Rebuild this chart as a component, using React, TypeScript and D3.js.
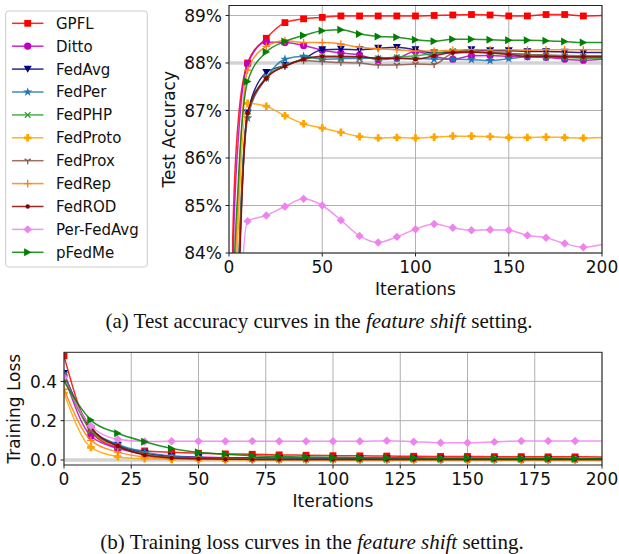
import React from 'react';
import * as d3 from 'd3';

// methods, colours and marker styles (legend order = draw order)
const methods = ['GPFL', 'Ditto', 'FedAvg', 'FedPer', 'FedPHP', 'FedProto', 'FedProx', 'FedRep', 'FedROD', 'Per-FedAvg', 'pFedMe'];
const colors = ['#ff0000', '#bf00bf', '#000080', '#1f77b4', '#2ca02c', '#ffa500', '#8c564b', '#ff7f0e', '#8b0000', '#ee82ee', '#008000'];
const markers = ['s', 'o', 'v', '*', 'x', 'P', '1', '+', '.', 'D', '>'];

// test accuracy (%), iterations 0, 2, 5, 10, 20 ... 200
const accIters = [0, 2, 5, 10, 20, 30, 40, 50, 60, 70, 80, 90, 100, 110, 120, 130, 140, 150, 160, 170, 180, 190, 200];
const accGPFL = [70, 84.3, 86.8, 88.0, 88.52, 88.85, 88.93, 88.96, 88.99, 88.99, 88.99, 88.99, 88.99, 89.0, 89.01, 89.02, 89.01, 88.99, 88.99, 89.02, 89.02, 88.99, 89.0];
const accDitto = [70, 83.6, 86.4, 87.98, 88.44, 88.43, 88.37, 88.27, 88.21, 88.17, 88.07, 88.1, 88.24, 88.14, 88.08, 88.15, 88.16, 88.14, 88.13, 88.12, 88.08, 88.06, 88.08];
const accFedAvg = [70, 79, 83.5, 86.95, 87.8, 87.95, 88.09, 88.28, 88.29, 88.28, 88.31, 88.33, 88.28, 88.21, 88.22, 88.28, 88.26, 88.26, 88.24, 88.24, 88.23, 88.22, 88.22];
const accFedPer = [70, 78.5, 83.2, 86.84, 87.68, 88.08, 88.14, 88.08, 88.09, 88.1, 88.1, 88.1, 88.1, 88.08, 88.08, 88.07, 88.05, 88.09, 88.13, 88.12, 88.12, 88.12, 88.12];
const accFedPHP = [70, 78.8, 83.4, 86.9, 87.7, 87.95, 88.08, 88.12, 88.12, 88.12, 88.1, 88.12, 88.15, 88.2, 88.25, 88.24, 88.22, 88.2, 88.18, 88.15, 88.12, 88.1, 88.1];
const accFedProto = [70, 80, 84.6, 87.15, 87.09, 86.89, 86.72, 86.63, 86.54, 86.45, 86.42, 86.43, 86.42, 86.44, 86.46, 86.46, 86.45, 86.43, 86.43, 86.44, 86.43, 86.42, 86.43];
const accFedProx = [70, 78.5, 83.2, 86.9, 87.68, 87.93, 88.05, 88.03, 88.01, 88.0, 87.96, 87.96, 87.98, 87.97, 88.2, 88.22, 88.22, 88.2, 88.18, 88.17, 88.16, 88.15, 88.15];
const accFedRep = [70, 81.5, 85.2, 87.85, 88.35, 88.47, 88.43, 88.43, 88.4, 88.33, 88.3, 88.28, 88.25, 88.25, 88.27, 88.28, 88.28, 88.28, 88.27, 88.28, 88.28, 88.28, 88.28];
const accFedROD = [70, 77.5, 82.8, 86.95, 87.68, 87.93, 88.08, 88.14, 88.14, 88.13, 88.1, 88.1, 88.08, 88.15, 88.22, 88.23, 88.21, 88.18, 88.14, 88.14, 88.13, 88.13, 88.13];
const accPerFedAvg = [60, 70, 81.5, 84.67, 84.79, 84.98, 85.14, 85.0, 84.69, 84.36, 84.22, 84.34, 84.5, 84.61, 84.53, 84.48, 84.49, 84.48, 84.37, 84.32, 84.2, 84.12, 84.18];
const accPFedMe = [70, 82.5, 85.5, 87.61, 88.23, 88.45, 88.58, 88.68, 88.7, 88.61, 88.56, 88.54, 88.49, 88.46, 88.5, 88.5, 88.49, 88.48, 88.48, 88.47, 88.45, 88.43, 88.43];

// training loss, iterations 0, 10 ... 200
const lossIters = [0, 10, 20, 30, 40, 50, 60, 70, 80, 90, 100, 110, 120, 130, 140, 150, 160, 170, 180, 190, 200];
const lossGPFL = [0.53, 0.144, 0.064, 0.046, 0.039, 0.034, 0.031, 0.029, 0.026, 0.024, 0.022, 0.021, 0.02, 0.019, 0.018, 0.018, 0.017, 0.017, 0.016, 0.016, 0.015];
const lossDitto = [0.43, 0.122, 0.059, 0.03, 0.02, 0.015, 0.012, 0.011, 0.01, 0.009, 0.008, 0.008, 0.007, 0.007, 0.006, 0.006, 0.006, 0.005, 0.005, 0.005, 0.005];
const lossFedAvg = [0.44, 0.16, 0.075, 0.035, 0.018, 0.012, 0.01, 0.009, 0.008, 0.007, 0.006, 0.006, 0.005, 0.005, 0.005, 0.004, 0.004, 0.004, 0.004, 0.004, 0.004];
const lossFedPer = [0.44, 0.16, 0.08, 0.04, 0.02, 0.012, 0.009, 0.007, 0.006, 0.005, 0.005, 0.004, 0.004, 0.004, 0.003, 0.003, 0.003, 0.003, 0.003, 0.003, 0.003];
const lossFedPHP = [0.42, 0.15, 0.07, 0.03, 0.012, 0.007, 0.005, 0.004, 0.003, 0.003, 0.003, 0.002, 0.002, 0.002, 0.002, 0.002, 0.002, 0.002, 0.002, 0.002, 0.002];
const lossFedProto = [0.34, 0.064, 0.017, 0.006, 0.003, 0.002, 0.002, 0.001, 0.001, 0.001, 0.001, 0.001, 0.001, 0.001, 0.001, 0.001, 0.001, 0.001, 0.001, 0.001, 0.001];
const lossFedProx = [0.43, 0.16, 0.07, 0.03, 0.012, 0.006, 0.004, 0.003, 0.003, 0.002, 0.002, 0.002, 0.002, 0.002, 0.002, 0.002, 0.002, 0.002, 0.002, 0.002, 0.002];
const lossFedRep = [0.36, 0.1, 0.04, 0.015, 0.006, 0.003, 0.002, 0.002, 0.001, 0.001, 0.001, 0.001, 0.001, 0.001, 0.001, 0.001, 0.001, 0.001, 0.001, 0.001, 0.001];
const lossFedROD = [0.42, 0.165, 0.071, 0.025, 0.01, 0.006, 0.004, 0.003, 0.003, 0.002, 0.002, 0.002, 0.002, 0.002, 0.002, 0.002, 0.002, 0.002, 0.002, 0.002, 0.002];
const lossPerFedAvg = [0.42, 0.173, 0.105, 0.094, 0.095, 0.095, 0.095, 0.096, 0.095, 0.095, 0.095, 0.095, 0.098, 0.093, 0.088, 0.088, 0.092, 0.097, 0.097, 0.097, 0.097];
const lossPFedMe = [0.4, 0.203, 0.136, 0.093, 0.059, 0.039, 0.029, 0.022, 0.018, 0.015, 0.013, 0.012, 0.011, 0.011, 0.01, 0.01, 0.009, 0.009, 0.009, 0.008, 0.008];

const accSeries = [accGPFL, accDitto, accFedAvg, accFedPer, accFedPHP, accFedProto, accFedProx, accFedRep, accFedROD, accPerFedAvg, accPFedMe];
const lossSeries = [lossGPFL, lossDitto, lossFedAvg, lossFedPer, lossFedPHP, lossFedProto, lossFedProx, lossFedRep, lossFedROD, lossPerFedAvg, lossPFedMe];

const accTicks = [84, 85, 86, 87, 88, 89];
const accXTicks = [0, 50, 100, 150, 200];
const lossTicks = [0, 0.2, 0.4];
const lossXTicks = [0, 25, 50, 75, 100, 125, 150, 175, 200];

const FONT = 'DejaVu Sans, sans-serif';
const SERIF = 'Liberation Serif, Times New Roman, serif';

const Marker = ({ type, color, x, y }: { type: string; color: string; x: number; y: number }) => {
  const t = `translate(${x},${y})`;
  switch (type) {
    case 's':
      return <rect transform={t} x={-3.4} y={-3.4} width={6.8} height={6.8} fill={color} />;
    case 'o':
      return <circle transform={t} r={3.6} fill={color} />;
    case 'v':
      return <path transform={t} d="M-4,-3.4L4,-3.4L0,3.6Z" fill={color} />;
    case '*':
      return <path transform={t} d={d3.symbol(d3.symbolStar, 26)() || ''} fill={color} />;
    case 'x':
      return <path transform={t} d="M-2.8,-2.8L2.8,2.8M-2.8,2.8L2.8,-2.8" stroke={color} strokeWidth={1.3} />;
    case 'P':
      return (
        <path transform={t} d="M-1.4,-3.8H1.4V-1.4H3.8V1.4H1.4V3.8H-1.4V1.4H-3.8V-1.4H-1.4Z" fill={color} />
      );
    case '1':
      return <path transform={t} d="M0,0V3.6M0,0L-3.1,-1.8M0,0L3.1,-1.8" stroke={color} strokeWidth={1.3} />;
    case '+':
      return <path transform={t} d="M-3.8,0H3.8M0,-3.8V3.8" stroke={color} strokeWidth={1.3} />;
    case '.':
      return <circle transform={t} r={2.2} fill={color} />;
    case 'D':
      return <path transform={t} d="M0,-4.2L4.2,0L0,4.2L-4.2,0Z" fill={color} />;
    case '>':
      return <path transform={t} d="M-3.6,-4L3.8,0L-3.6,4Z" fill={color} />;
    default:
      return null;
  }
};

const Panel = ({ id, iters, series, x, y, xTicks, yTicks, fmt, hiTick, xLabel, yLabel, yLabelX }: any) => {
  const [x0, x1] = x.range();
  const [yb, yt] = y.range();
  const line = d3
    .line<number>()
    .x((_, i) => x(iters[i]))
    .y((d) => y(d))
    .curve(d3.curveMonotoneX);
  return (
    <g fontFamily={FONT}>
      <defs>
        <clipPath id={id}>
          <rect x={x0} y={yt} width={x1 - x0} height={yb - yt} />
        </clipPath>
      </defs>
      <rect x={x0} y={yt} width={x1 - x0} height={yb - yt} fill="#fff" />
      {/* grid */}
      {xTicks.map((t: number) => (
        <line key={'gx' + t} x1={x(t)} x2={x(t)} y1={yt} y2={yb} stroke="#b0b0b0" strokeWidth={1} />
      ))}
      {yTicks.map((t: number) => (
        <line
          key={'gy' + t}
          x1={x0}
          x2={x1}
          y1={y(t)}
          y2={y(t)}
          stroke={t === hiTick ? '#d3d3d3' : '#b0b0b0'}
          strokeWidth={t === hiTick ? 3.5 : 1}
        />
      ))}
      <g clipPath={`url(#${id})`}>
        {series.map((vals: number[], k: number) => (
          <g key={methods[k]}>
            <path d={line(vals) || ''} fill="none" stroke={colors[k]} strokeWidth={1.5} strokeOpacity={0.85} />
            {vals.map((v, i) =>
              iters[i] % 10 === 0 && iters[i] < 200 ? (
                <Marker key={i} type={markers[k]} color={colors[k]} x={x(iters[i])} y={y(v)} />
              ) : null
            )}
          </g>
        ))}
      </g>
      {/* frame */}
      <rect x={x0} y={yt} width={x1 - x0} height={yb - yt} fill="none" stroke="#222" strokeWidth={1} />
      {/* ticks */}
      {xTicks.map((t: number) => (
        <g key={'tx' + t}>
          <line x1={x(t)} x2={x(t)} y1={yb} y2={yb + 3.5} stroke="#222" />
          <text x={x(t)} y={yb + 8} dy="0.71em" textAnchor="middle" fontSize={17} fill="#111">
            {t}
          </text>
        </g>
      ))}
      {yTicks.map((t: number) => (
        <g key={'ty' + t}>
          <line x1={x0 - 3.5} x2={x0} y1={y(t)} y2={y(t)} stroke="#222" />
          <text x={x0 - 7} y={y(t)} dy="0.36em" textAnchor="end" fontSize={17} fill="#111">
            {fmt(t)}
          </text>
        </g>
      ))}
      <text x={(x0 + x1) / 2} y={yb + 42} textAnchor="middle" fontSize={17} fill="#111">
        {xLabel}
      </text>
      <text
        transform={`translate(${yLabelX},${(yb + yt) / 2}) rotate(-90)`}
        textAnchor="middle"
        fontSize={17}
        fill="#111"
      >
        {yLabel}
      </text>
    </g>
  );
};

const Legend = () => {
  const rowY = (i: number) => 23.3 + i * 22.9;
  return (
    <g fontFamily={FONT}>
      <rect x={5.7} y={11} width={141.6} height={256} rx={3} fill="#fff" fillOpacity={0.8} stroke="#cccccc" />
      {methods.map((m, i) => (
        <g key={m}>
          <line x1={12} x2={43.5} y1={rowY(i)} y2={rowY(i)} stroke={colors[i]} strokeWidth={1.5} strokeOpacity={0.85} />
          <Marker type={markers[i]} color={colors[i]} x={27.7} y={rowY(i)} />
          <text x={56} y={rowY(i)} dy="0.36em" fontSize={15} fill="#111">
            {m}
          </text>
        </g>
      ))}
    </g>
  );
};

const App = () => {
  const xAcc = d3.scaleLinear().domain([0, 200]).range([229, 602]);
  const yAcc = d3.scaleLinear().domain([84, 89.21]).range([253, 5.5]);
  const xLoss = d3.scaleLinear().domain([0, 200]).range([64, 602]);
  const yLoss = d3.scaleLinear().domain([-0.0255, 0.548]).range([465, 352.3]);

  return (
    <svg width={619} height={554} style={{ position: 'absolute', left: 0, top: 0, background: '#fff' }}>
      <Panel
        id="clipAcc"
        iters={accIters}
        series={accSeries}
        x={xAcc}
        y={yAcc}
        xTicks={accXTicks}
        yTicks={accTicks}
        fmt={(t: number) => `${t}%`}
        hiTick={88}
        xLabel="Iterations"
        yLabel="Test Accuracy"
        yLabelX={175}
      />
      <Legend />
      <text x={319} y={328} textAnchor="middle" fontFamily={SERIF} fontSize={21} fill="#111">
        (a) Test accuracy curves in the <tspan fontStyle="italic">feature shift</tspan> setting.
      </text>
      <Panel
        id="clipLoss"
        iters={lossIters}
        series={lossSeries}
        x={xLoss}
        y={yLoss}
        xTicks={lossXTicks}
        yTicks={lossTicks}
        fmt={(t: number) => t.toFixed(1)}
        hiTick={0}
        xLabel="Iterations"
        yLabel="Training Loss"
        yLabelX={20}
      />
      <text x={312} y={549} textAnchor="middle" fontFamily={SERIF} fontSize={21} fill="#111">
        (b) Training loss curves in the <tspan fontStyle="italic">feature shift</tspan> setting.
      </text>
    </svg>
  );
};

export default App;
